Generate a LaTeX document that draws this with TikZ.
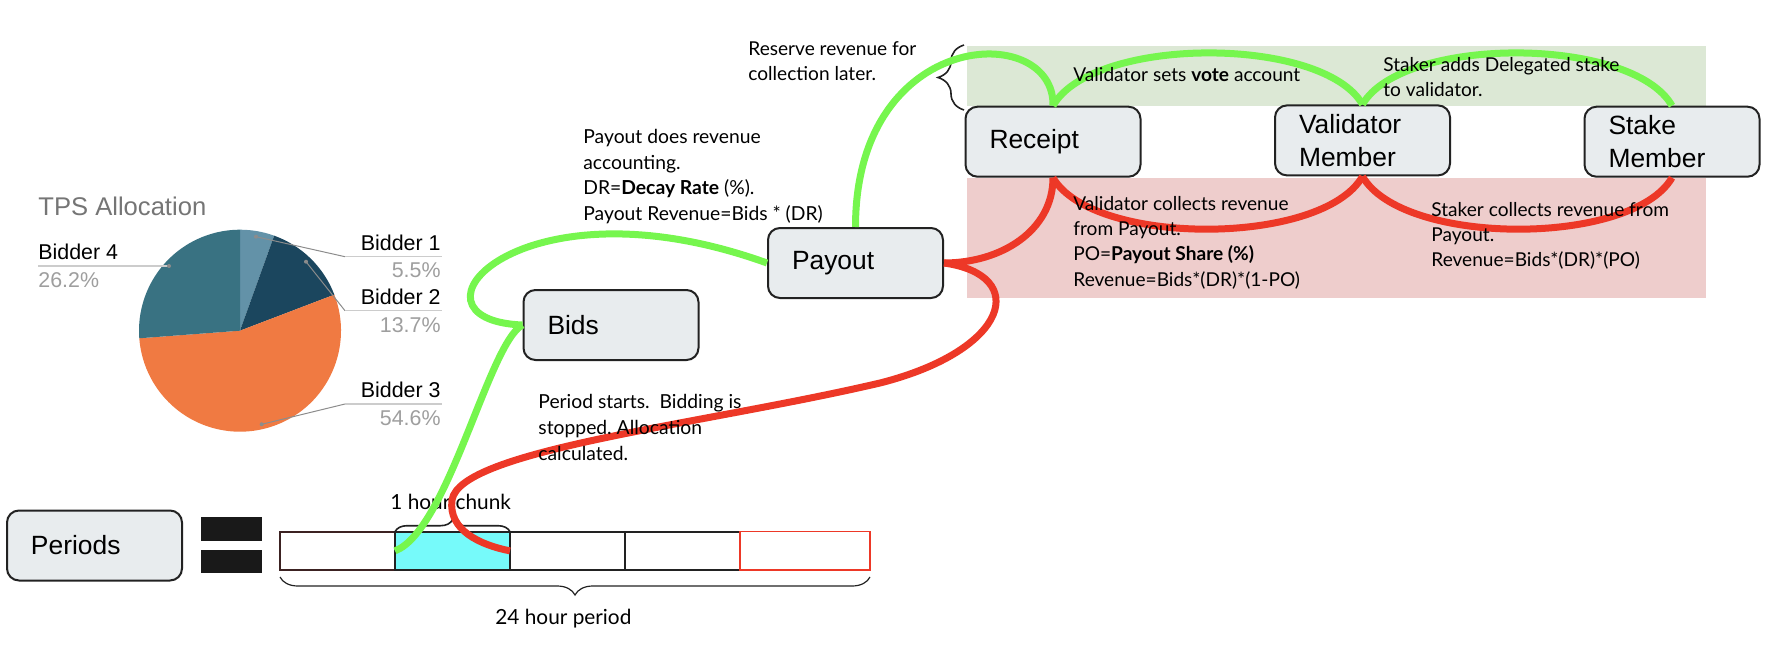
\documentclass[tikz,border=0pt]{standalone}
\usepackage{fontspec}
\setmainfont{Lato}
\newfontfamily\arialfont{Liberation Sans}
\usetikzlibrary{decorations.pathreplacing}
\frenchspacing

\definecolor{boxfill}{RGB}{232,236,238}
\definecolor{boxline}{RGB}{34,34,34}
\definecolor{greenband}{RGB}{220,232,213}
\definecolor{redband}{RGB}{238,205,204}
\definecolor{greenflow}{RGB}{118,246,78}
\definecolor{redflow}{RGB}{237,56,39}
\definecolor{chunkcyan}{RGB}{118,250,250}
\definecolor{bidA}{RGB}{99,146,168}
\definecolor{bidB}{RGB}{27,70,94}
\definecolor{bidC}{RGB}{240,122,66}
\definecolor{bidD}{RGB}{57,114,130}
\definecolor{charttitle}{RGB}{117,117,117}
\definecolor{chartpct}{RGB}{158,158,158}

\begin{document}
\begin{tikzpicture}[x=0.5pt,y=-0.5pt,
	box/.style={draw=boxline,fill=boxfill,line width=1pt,rounded corners=6pt,minimum width=87.5pt,minimum height=35pt,text width=63.5pt,inner xsep=12pt,inner ysep=0pt,align=left,font=\arialfont\fontsize{13.2}{16.5}\selectfont},
	note/.style={anchor=north west,inner sep=0pt,align=left,font=\fontsize{9.55}{12.6}\selectfont},
	cell/.style={draw=boxline,line width=1pt,minimum height=19.15pt,inner sep=0pt,outer sep=0pt},
	flowgreen/.style={draw=greenflow,line width=3.5pt},
	flowred/.style={draw=redflow,line width=3.5pt},
	piename/.style={inner sep=0pt,font=\arialfont\fontsize{10.7}{12}\selectfont,text=black},
	piepct/.style={inner sep=0pt,font=\arialfont\fontsize{10.7}{12}\selectfont,text=chartpct},
	leadlight/.style={draw=black!20,line width=0.7pt},
	leaddark/.style={draw=black!45,line width=0.5pt}]
	\useasboundingbox (0,0) rectangle (1768,648);
	
	%Shape: Rectangle [green band]
	\fill [greenband] (967,46) rectangle (1706,106);
	%Shape: Rectangle [red band]
	\fill [redband] (967,178) rectangle (1706,298);
	
	%Shape: Pie
	\coordinate (piec) at (240,330.7);
	\fill [bidA] (piec) -- ++(-90:101) arc[start angle=-90,end angle=-70.2,radius=101] -- cycle;
	\fill [bidB] (piec) -- ++(-70.2:101) arc[start angle=-70.2,end angle=-20.9,radius=101] -- cycle;
	\fill [bidC] (piec) -- ++(-20.9:101) arc[start angle=-20.9,end angle=175.7,radius=101] -- cycle;
	\fill [bidD] (piec) -- ++(175.7:101) arc[start angle=175.7,end angle=270,radius=101] -- cycle;
	
	% Text Node
	\node [anchor=base west,inner sep=0pt,text=charttitle,font=\arialfont\fontsize{12.8}{14}\selectfont] (pietitle) at (38,215) {TPS Allocation};
	% Text Node
	\node [piename,anchor=base west] (nameD) at (38,259) {Bidder 4};
	\node [piepct,anchor=base west] (pctD) at (38,287.3) {26.2\%};
	\node [piename,anchor=base east] (nameA) at (441,250.7) {Bidder 1};
	\node [piepct,anchor=base east] (pctA) at (441,277.7) {5.5\%};
	\node [piename,anchor=base east] (nameB) at (441,304) {Bidder 2};
	\node [piepct,anchor=base east] (pctB) at (441,332.3) {13.7\%};
	\node [piename,anchor=base east] (nameC) at (441,397.3) {Bidder 3};
	\node [piepct,anchor=base east] (pctC) at (441,425.7) {54.6\%};
	
	%Straight Lines [leaders]
	\coordinate (dotA) at (256,236.7);
	\coordinate (dotB) at (306,261.7);
	\coordinate (dotC) at (261.7,424.3);
	\coordinate (dotD) at (169,266);
	\draw [leadlight] (38,266) -- (dotD);
	\draw [leaddark] (dotA) -- (345,256.7);
	\draw [leadlight] (345,256.7) -- (441.7,256.7);
	\draw [leaddark] (dotB) -- (345,310.7);
	\draw [leadlight] (345,310.7) -- (441.7,310.7);
	\draw [leaddark] (dotC) -- (345,404);
	\draw [leadlight] (345,404) -- (441.7,404);
	\fill [black!45] (dotA) circle (2) (dotB) circle (2) (dotC) circle (2) (dotD) circle (2);
	
	%Shape: Equals bars
	\fill [black!90] (200.7,517) rectangle (261.7,540.7);
	\fill [black!90] (200.7,550) rectangle (261.7,573);
	
	%Shape: Period cells
	\node [cell,draw={rgb,255:red,60;green,34;blue,34},minimum width=57.5pt] (cellA) at (337.5,550.85) {};
	\node [cell,fill=chunkcyan,minimum width=57.5pt] (chunk) at (452.5,550.85) {};
	\node [cell,minimum width=57.5pt] (cellC) at (567.5,550.85) {};
	\node [cell,minimum width=57.5pt] (cellD) at (682.5,550.85) {};
	\node [cell,draw=redflow,line width=0.75pt,minimum width=65pt] (cellE) at (805,550.85) {};
	
	%Braces
	\draw [boxline,line width=0.6pt,decorate,decoration={brace,amplitude=9pt,mirror}] (280,577) -- (870,577);
	\draw [boxline,line width=0.8pt,decorate,decoration={brace,amplitude=6pt}] (chunk.north west) -- (chunk.north east);
	\draw [boxline,line width=0.8pt,decorate,decoration={brace,amplitude=13pt}] (964,110) -- (964,45);
	
	%Boxes
	\node [box] (periods) at (94.5,545.5) {Periods};
	\node [box] (bids) at (611,325) {Bids};
	\node [box] (payout) at (855.5,263) {Payout};
	\node [box] (receipt) at (1053,141.7) {Receipt};
	\node [box] (validator) at (1362.5,140.4) {Validator\\Member};
	\node [box] (stake) at (1672,141.7) {Stake\\Member};
	
	% Text Node
	\node [note,font=\fontsize{10.4}{12.6}\selectfont] (chunklabel) at (390,494) {1 hour chunk};
	
	%Curves [green]
	\draw [flowgreen] (payout.west) .. controls +(-250,-90) and +(-130,-5) .. (bids.west);
	\draw [flowgreen] (bids.west) .. controls +(-34,18) and +(53,-20) .. (chunk.west);
	\draw [flowgreen] (payout.north) .. controls +(0,-200) and +(2,-85) .. (receipt.north);
	\draw [flowgreen] (receipt.north) .. controls +(40,-70) and +(-40,-69) .. (validator.north);
	\draw [flowgreen] (validator.north) .. controls +(40,-69) and +(-40,-70) .. (stake.north);
	%Curves [red]
	\draw [flowred] (receipt.south) .. controls +(40,69) and +(-40,70) .. (validator.south);
	\draw [flowred] (validator.south) .. controls +(40,70) and +(-40,69) .. (stake.south);
	\draw [flowred] (payout.east) .. controls +(57,0) and +(0,53) .. (receipt.south);
	\draw [flowred] (payout.east) .. controls (1030,275) and (1010,350) .. (880,383) .. controls (700,425) and (460,450) .. (452,500) .. controls (448,530) and (480,545) .. (chunk.east);
	
	% Text Node
	\node [note,font=\fontsize{9.65}{12.75}\selectfont] (accounting) at (583,129) {Payout does revenue\\accounting.\\DR=\textbf{Decay Rate} (\%).\\Payout Revenue=Bids * (DR)};
	% Text Node
	\node [note,font=\fontsize{9.65}{13}\selectfont] (periodstart) at (538,394) {Period starts.\ \ Bidding is\\stopped. Allocation\\calculated.};
	% Text Node
	\node [note] (reserve) at (748,41) {Reserve revenue for\\collection later.};
	% Text Node
	\node [note] (votenote) at (1073,67) {Validator sets \textbf{vote} account};
	% Text Node
	\node [note] (delegnote) at (1383,57) {Staker adds Delegated stake\\to validator.};
	% Text Node
	\node [note] (valcollect) at (1073,196) {Validator collects revenue\\from Payout.\\PO=\textbf{Payout Share (\%)}\\Revenue=Bids*(DR)*(1-PO)};
	% Text Node
	\node [note] (stakecollect) at (1431,202) {Staker collects revenue from\\Payout.\\Revenue=Bids*(DR)*(PO)};
	% Text Node
	\node [note,font=\fontsize{10.4}{12.6}\selectfont] (daylabel) at (495,609) {24 hour period};
	
\end{tikzpicture}
\end{document}
